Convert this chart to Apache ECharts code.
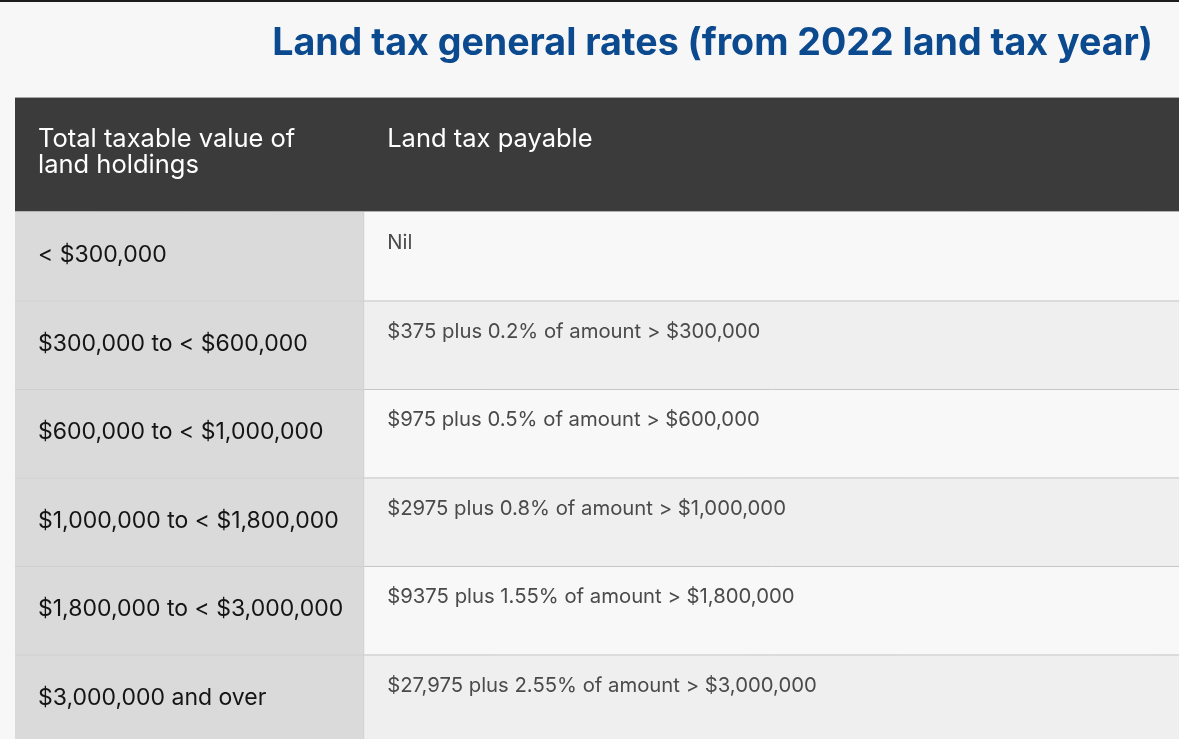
<!DOCTYPE html>
<html>
<head>
<meta charset="utf-8">
<title>Land tax general rates</title>
<script src="https://cdn.jsdelivr.net/npm/echarts@6/dist/echarts.min.js"></script>
<style>
  html, body { margin: 0; padding: 0; background: #f7f7f7; overflow: hidden; }
  #topbar { position: absolute; left: 0; top: 0; width: 1179px; height: 2px; background: #1c1c1c; z-index: 10; }
  #chart_box { width: 1179px; height: 745px; }
</style>
</head>
<body>
<div id="topbar"></div>
<div id="chart_box"></div>
<script>
// table content
var headerLabels = ["Total taxable value of\nland holdings", "Land tax payable"];
var valueBands = [
  "< $300,000",
  "$300,000 to < $600,000",
  "$600,000 to < $1,000,000",
  "$1,000,000 to < $1,800,000",
  "$1,800,000 to < $3,000,000",
  "$3,000,000 and over"
];
var taxPayable = [
  "Nil",
  "$375 plus 0.2% of amount > $300,000",
  "$975 plus 0.5% of amount > $600,000",
  "$2975 plus 0.8% of amount > $1,000,000",
  "$9375 plus 1.55% of amount > $1,800,000",
  "$27,975 plus 2.55% of amount > $3,000,000"
];

// layout (axis units): header is taller than a body row
var HEADER_H = 1.288;
var COL_SPLIT = 0.3;
var FONT = "Inter, 'Open Sans', sans-serif";

var myChart = echarts.init(document.getElementById("chart_box"));

// row index only; the texts are looked up by index
var rows = valueBands.map(function (v, i) {
  return [i];
});

var option = {
  backgroundColor: "#f7f7f7",
  animation: false,
  title: {
    text: "Land tax general rates (from 2022 land tax year)",
    right: 21,
    top: 20,
    textStyle: {
      color: "#0b4a8e",
      fontSize: 37.6,
      fontWeight: "bold",
      fontFamily: FONT
    }
  },
  grid: {
    left: 15,
    right: 0,
    top: 98,
    bottom: 2
  },
  xAxis: {
    type: "value",
    min: 0,
    max: 1,
    show: false
  },
  yAxis: {
    type: "value",
    inverse: true,
    min: -HEADER_H,
    max: valueBands.length,
    show: false
  },
  series: [
    {
      // header row
      type: "custom",
      data: [[-HEADER_H]],
      renderItem: function (params, api) {
        var tl = api.coord([0, api.value(0)]);
        var mid = api.coord([COL_SPLIT, 0]);
        var br = api.coord([1, 0]);
        var headStyle = {
          fill: "#ffffff",
          fontSize: 25.5,
          lineHeight: 26,
          fontFamily: FONT,
          align: "left",
          verticalAlign: "top"
        };
        return {
          type: "group",
          children: [
            {
              type: "rect",
              shape: { x: tl[0], y: tl[1], width: br[0] - tl[0], height: br[1] - tl[1] },
              style: { fill: "#3b3b3b" }
            },
            {
              type: "line",
              shape: { x1: tl[0], y1: tl[1] - 0.5, x2: br[0], y2: tl[1] - 0.5 },
              style: { stroke: "#a8a8a8", lineWidth: 1 }
            },
            {
              type: "line",
              shape: { x1: tl[0], y1: br[1] - 0.5, x2: br[0], y2: br[1] - 0.5 },
              style: { stroke: "#b4b4b4", lineWidth: 1 }
            },
            {
              type: "text",
              style: Object.assign({ text: headerLabels[0], x: tl[0] + 23, y: tl[1] + 28 }, headStyle)
            },
            {
              type: "text",
              style: Object.assign({ text: headerLabels[1], x: mid[0] + 23, y: tl[1] + 28 }, headStyle)
            }
          ]
        };
      }
    },
    {
      // body rows
      type: "custom",
      data: rows,
      renderItem: function (params, api) {
        var row = api.value(0);
        var tl = api.coord([0, row]);
        var mid = api.coord([COL_SPLIT, row + 1]);
        var br = api.coord([1, row + 1]);
        var rowFill = row % 2 === 0 ? "#f8f8f8" : "#efefef";
        var children = [
          {
            type: "rect",
            shape: { x: tl[0], y: tl[1], width: mid[0] - tl[0], height: br[1] - tl[1] },
            style: { fill: "#dadada" }
          },
          {
            type: "rect",
            shape: { x: mid[0], y: tl[1], width: br[0] - mid[0], height: br[1] - tl[1] },
            style: { fill: rowFill }
          },
          {
            type: "line",
            shape: { x1: mid[0] - 0.5, y1: tl[1], x2: mid[0] - 0.5, y2: br[1] },
            style: { stroke: "#d2d2d2", lineWidth: 1 }
          },
          {
            type: "text",
            style: {
              text: valueBands[params.dataIndex],
              x: tl[0] + 23,
              y: (tl[1] + br[1]) / 2 - 1,
              fill: "#141414",
              fontSize: 23,
              fontFamily: FONT,
              align: "left",
              verticalAlign: "middle"
            }
          },
          {
            type: "text",
            style: {
              text: taxPayable[params.dataIndex],
              x: mid[0] + 23,
              y: tl[1] + 31,
              fill: "#4a4a4a",
              fontSize: 20.3,
              fontFamily: FONT,
              align: "left",
              verticalAlign: "middle"
            }
          }
        ];
        if (row > 0) {
          children.push({
            type: "line",
            shape: { x1: tl[0], y1: tl[1] + 0.5, x2: mid[0], y2: tl[1] + 0.5 },
            style: { stroke: "#cfcfcf", lineWidth: 1 }
          });
          children.push({
            type: "line",
            shape: { x1: mid[0], y1: tl[1] + 0.5, x2: br[0], y2: tl[1] + 0.5 },
            style: { stroke: "#c6c6c6", lineWidth: 1 }
          });
        }
        return { type: "group", children: children };
      }
    }
  ]
};

myChart.setOption(option);
</script>
</body>
</html>
